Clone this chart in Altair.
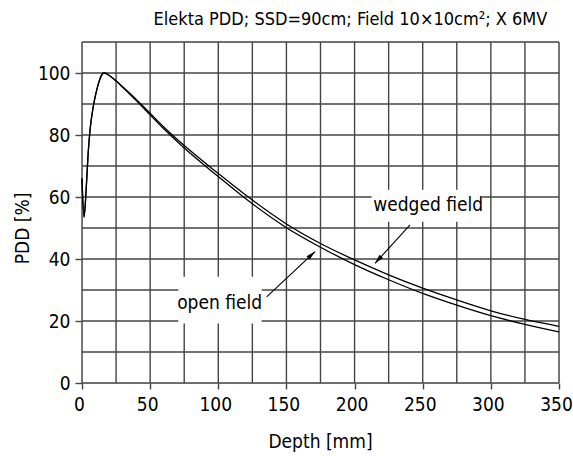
import altair as alt
import pandas as pd

FONT = "Liberation Sans Narrow, DejaVu Sans Condensed, Roboto Condensed, Arial Narrow, sans-serif"

depth = [0, 1.5, 3, 4.5, 6, 8, 10, 12, 14, 16, 18, 20, 25, 30, 40, 50, 60, 75,
         100, 125, 150, 175, 200, 225, 250, 275, 300, 325, 350]
open_field = [66, 53.5, 62, 74, 82, 88.5, 93, 96.5, 99, 100, 99.8, 99.2, 97.4, 95.3,
              91, 86.5, 82, 75.8, 66.6, 57.8, 50.1, 43.8, 38.2, 33.3, 28.9, 25.1,
              21.7, 18.9, 16.5]
wedged_field = [66, 53.5, 62, 74, 82, 88.5, 93, 96.5, 99, 100, 99.8, 99.2, 97.5, 95.5,
                91.4, 87, 82.6, 76.6, 67.6, 59, 51.3, 45, 39.7, 34.9, 30.6, 26.8,
                23.3, 20.5, 18.3]

x_ticks = list(range(0, 351, 25))
y_ticks = list(range(0, 111, 10))

# annotation boxes, labels and arrows (data coordinates)
ann_labels = ["wedged field", "open field"]
ann_text_x = [254, 101]
ann_text_y = [57.4, 25.8]
box_x1 = [212.5, 70.7]
box_x2 = [293.5, 131.8]
box_y1 = [52, 19.2]
box_y2 = [62.3, 34.3]
arrow_x1 = [240.7, 135.5]
arrow_y1 = [51, 27.8]
arrow_x2 = [215, 171]
arrow_y2 = [38.6, 42.4]
arrow_angle = [222, 47]

rows = []
for d, o, w in zip(depth, open_field, wedged_field):
    rows.append({"depth": d, "pdd": o, "field": "open field"})
    rows.append({"depth": d, "pdd": w, "field": "wedged field"})
df = pd.DataFrame(rows)

ann = pd.DataFrame({
    "label": ann_labels, "tx": ann_text_x, "ty": ann_text_y,
    "bx1": box_x1, "bx2": box_x2, "by1": box_y1, "by2": box_y2,
    "ax1": arrow_x1, "ay1": arrow_y1, "ax2": arrow_x2, "ay2": arrow_y2,
    "angle": arrow_angle,
})

GRID = "#444444"

xscale = alt.Scale(domain=[0, 350], nice=False, zero=False)
yscale = alt.Scale(domain=[0, 110], nice=False, zero=False)

xaxis = alt.Axis(
    values=x_ticks, grid=False,
    domain=False, tickColor=GRID, tickWidth=1.4, tickSize=6,
    labelExpr="datum.value % 50 == 0 ? datum.label : ''", labelOverlap=False,
    labelFlush=False, labelOffset=-3,
    labelFont=FONT, labelFontSize=19, labelColor="black", labelPadding=6,
    title="Depth [mm]", titleFont=FONT, titleFontSize=19, titleFontWeight="normal",
    titleColor="black", titleX=238, titleY=58, titleBaseline="middle", titleAlign="center",
)
yaxis = alt.Axis(
    values=y_ticks, grid=False,
    domain=False, tickColor=GRID, tickWidth=1.4,
    tickSize={"condition": {"test": "datum.value % 20 == 0", "value": 7}, "value": 4},
    labelExpr="datum.value % 20 == 0 ? datum.label : ''", labelOverlap=False,
    labelFlush=False,
    labelFont=FONT, labelFontSize=19, labelColor="black", labelPadding=5,
    title="PDD [%]", titleFont=FONT, titleFontSize=19, titleFontWeight="normal",
    titleColor="black", titleX=-60, titleY=186, titleBaseline="middle",
    titleAlign="center", titleAngle=270,
)

vgrid = alt.Chart(pd.DataFrame({"gx": x_ticks})).mark_rule(
    color=GRID, strokeWidth=1.4).encode(
    x=alt.X("gx:Q", scale=xscale, axis=xaxis),
)
hgrid = alt.Chart(pd.DataFrame({"gy": y_ticks})).mark_rule(
    color=GRID, strokeWidth=1.4).encode(
    y=alt.Y("gy:Q", scale=yscale, axis=yaxis),
)

lines = alt.Chart(df).mark_line(color="black", strokeWidth=1.3, interpolate="monotone").encode(
    x=alt.X("depth:Q", scale=xscale, axis=xaxis),
    y=alt.Y("pdd:Q", scale=yscale, axis=yaxis),
    detail="field:N",
)

boxes = alt.Chart(ann).mark_rect(color="white", opacity=1).encode(
    x="bx1:Q", x2="bx2:Q", y="by1:Q", y2="by2:Q",
)

texts = alt.Chart(ann).mark_text(font=FONT, fontSize=19, color="black",
                                 align="center", baseline="middle").encode(
    x="tx:Q", y="ty:Q", text="label:N",
)

arrows = alt.Chart(ann).mark_rule(color="black", strokeWidth=1.1).encode(
    x="ax1:Q", x2="ax2:Q", y="ay1:Q", y2="ay2:Q",
)

heads = alt.Chart(ann).mark_point(
    shape="M0,0L0.4,1.6L-0.4,1.6Z", filled=True, color="black", opacity=1,
    size=140, strokeWidth=0,
).encode(
    x="ax2:Q", y="ay2:Q", angle=alt.Angle("angle:Q", scale=None),
)

chart = alt.layer(vgrid, hgrid, boxes, lines, arrows, heads, texts).properties(
    width=477, height=341,
    autosize=alt.AutoSizeParams(type="none"),
    padding={"left": 82, "top": 42, "right": 14, "bottom": 86},
    title=alt.TitleParams(
        "Elekta PDD; SSD=90cm; Field 10\u00d710cm\u00b2; X 6MV",
        font=FONT, fontSize=18, fontWeight="normal", color="black",
        anchor="middle", dx=30, offset=12,
    ),
).configure_view(stroke=None).configure(background="white")

chart.save("out.html", embed_options={"renderer": "svg", "actions": False})
